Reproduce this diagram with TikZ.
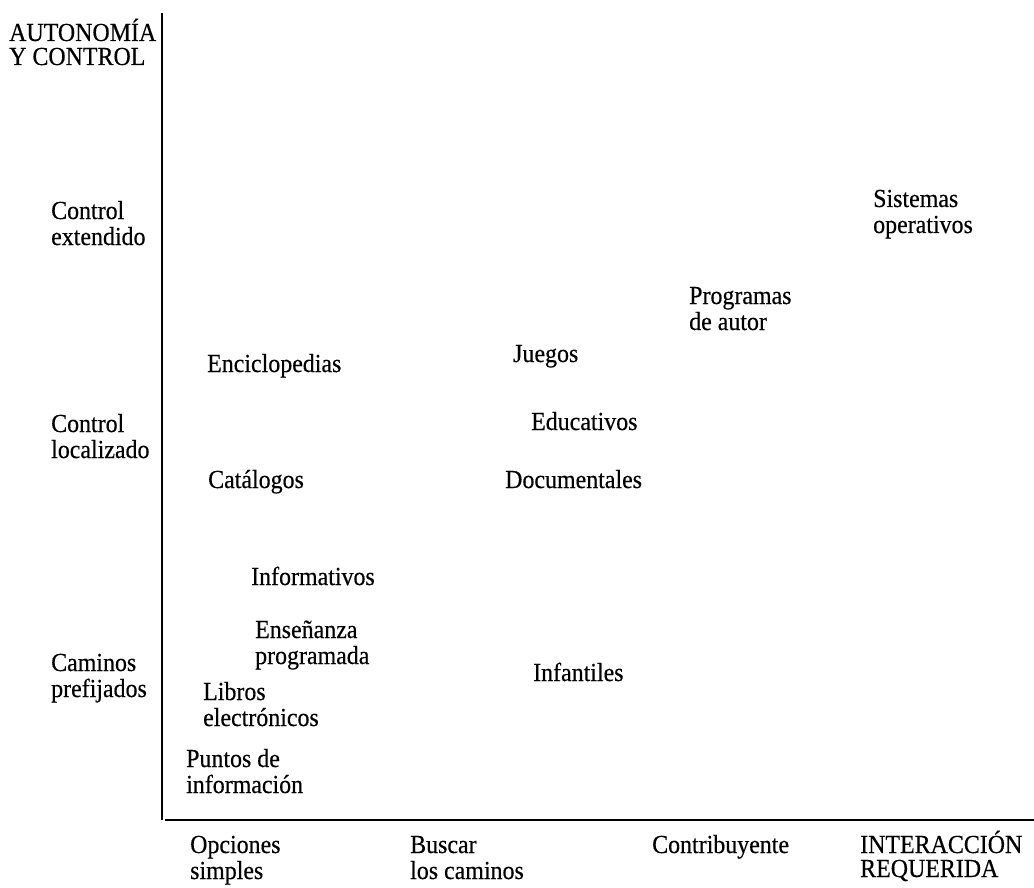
\documentclass[tikz,border=0pt]{standalone}
\usepackage{fontspec}
\setmainfont[FakeStretch=0.92,FakeBold=0.4]{Liberation Serif}
\begin{document}
\begin{tikzpicture}[x=1pt,y=-1pt,
  lbl/.style={anchor=base west,inner sep=0pt,align=left,
    font=\fontsize{26}{26}\selectfont},
  caps/.style={lbl,font=\fontsize{26}{24}\selectfont},
  axis/.style={line width=2.5pt}]
\useasboundingbox (0,0) rectangle (1034,888);

% axes
\coordinate (ytop) at (162,13);
\coordinate (ybot) at (162,820);
\coordinate (xl) at (165,820);
\coordinate (xr) at (1034,820);
\draw[axis] (ytop) -- (ybot);
\draw[axis] (xl) -- (xr);

% vertical axis labels (anchored on the baseline of the last line)
\node[caps] (ytitle) at (9,65) {AUTONOMÍA\\Y CONTROL};
\node[lbl] (ext) at (51,245) {Control\\extendido};
\node[lbl] (loc) at (51,458) {Control\\localizado};
\node[lbl] (cam) at (51,697) {Caminos\\prefijados};

% horizontal axis labels
\node[lbl] (ops) at (190,879) {Opciones\\simples};
\node[lbl] (bus) at (410,879) {Buscar\\los caminos};
\node[lbl] (con) at (652,853) {Contribuyente};
\node[caps] (xtitle) at (860,877) {INTERACCIÓN\\REQUERIDA};

% entries
\node[lbl] (sis) at (873,233) {Sistemas\\operativos};
\node[lbl] (pro) at (689,330) {Programas\\de autor};
\node[lbl] (jue) at (513,362) {Juegos};
\node[lbl] (enc) at (207,372) {Enciclopedias};
\node[lbl] (edu) at (531,430) {Educativos};
\node[lbl] (cat) at (208,488) {Catálogos};
\node[lbl] (doc) at (505,488) {Documentales};
\node[lbl] (inf) at (251,585) {Informativos};
\node[lbl] (ens) at (255,664) {Enseñanza\\programada};
\node[lbl] (ift) at (533,681) {Infantiles};
\node[lbl] (lib) at (203,726) {Libros\\electrónicos};
\node[lbl] (pun) at (186,793) {Puntos de\\información};
\end{tikzpicture}
\end{document}
